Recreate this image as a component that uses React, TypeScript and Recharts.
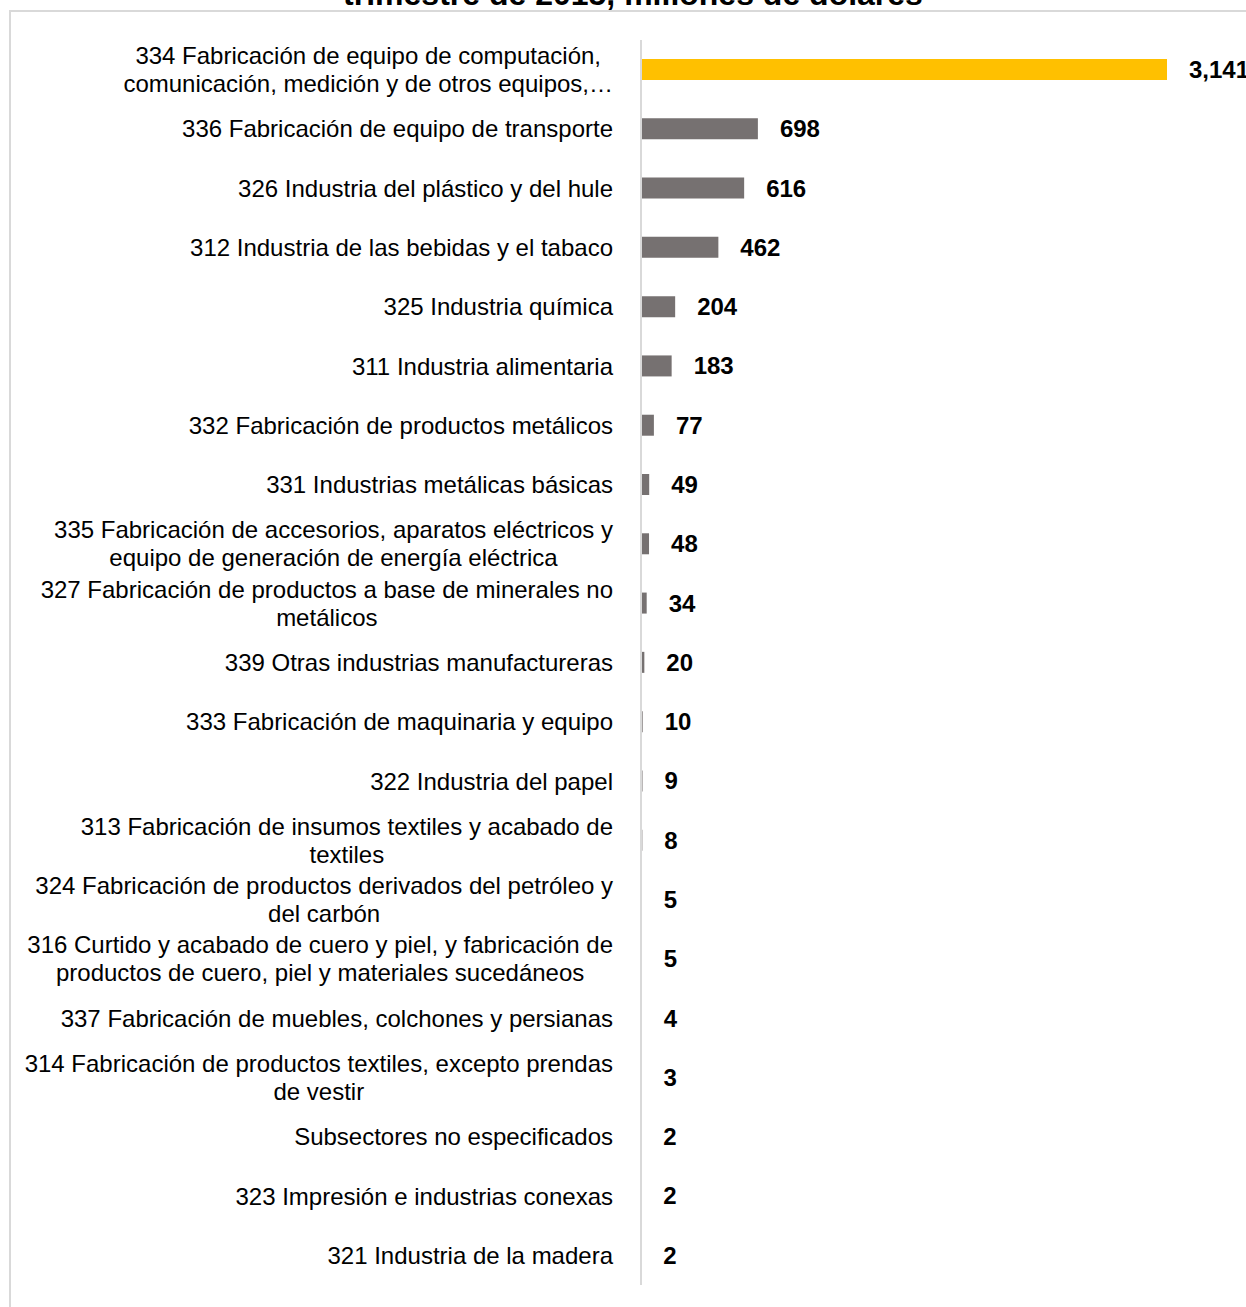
import React from 'react';
import { BarChart, Bar, XAxis, YAxis, Cell, LabelList } from 'recharts';

const categories: string[] = [
  '334 Fabricación de equipo de computación,\ncomunicación, medición y de otros equipos,…',
  '336 Fabricación de equipo de transporte',
  '326 Industria del plástico y del hule',
  '312 Industria de las bebidas y el tabaco',
  '325 Industria química',
  '311 Industria alimentaria',
  '332 Fabricación de productos metálicos',
  '331 Industrias metálicas básicas',
  '335 Fabricación de accesorios, aparatos eléctricos y\nequipo de generación de energía eléctrica',
  '327 Fabricación de productos a base de minerales no\nmetálicos',
  '339 Otras industrias manufactureras',
  '333 Fabricación de maquinaria y equipo',
  '322 Industria del papel',
  '313 Fabricación de insumos textiles y acabado de\ntextiles',
  '324 Fabricación de productos derivados del petróleo y\ndel carbón',
  '316 Curtido y acabado de cuero y piel, y fabricación de\nproductos de cuero, piel y materiales sucedáneos',
  '337 Fabricación de muebles, colchones y persianas',
  '314 Fabricación de productos textiles, excepto prendas\nde vestir',
  'Subsectores no especificados',
  '323 Impresión e industrias conexas',
  '321 Industria de la madera',
];

const values: number[] = [3141, 698, 616, 462, 204, 183, 77, 49, 48, 34, 20, 10, 9, 8, 5, 5, 4, 3, 2, 2, 2];

const titleText = 'trimestre de 2015, millones de dólares';

const HIGHLIGHT = '#FFC000';
const BAR_GRAY = '#767171';
const FONT = "'Liberation Sans', Arial, sans-serif";

const data = categories.map((name, i) => ({ name, value: values[i] }));

let measureCtx: CanvasRenderingContext2D | null = null;
function measure(text: string, size: number): number {
  if (!measureCtx) {
    const c = document.createElement('canvas');
    measureCtx = c.getContext('2d');
  }
  if (!measureCtx) return text.length * size * 0.5;
  measureCtx.font = `${size}px 'Liberation Sans', Arial, sans-serif`;
  return measureCtx.measureText(text).width;
}

const CategoryTick = (props: any) => {
  const { x, y, payload } = props;
  const lines: string[] = String(payload.value).split('\n');
  const fs = 24;
  const lh = 28;
  if (lines.length === 1) {
    return (
      <text x={x} y={y} dy="0.355em" textAnchor="end" fontSize={fs} fill="#000" fontFamily={FONT}>
        {lines[0]}
      </text>
    );
  }
  const widths = lines.map((l) => measure(l, fs));
  const maxW = Math.max(...widths);
  const cx = x - maxW / 2;
  return (
    <g>
      {lines.map((l, i) => (
        <text
          key={i}
          x={cx}
          y={y + (i - (lines.length - 1) / 2) * lh}
          dy="0.355em"
          textAnchor="middle"
          fontSize={fs}
          fill="#000"
          fontFamily={FONT}
        >
          {l}
        </text>
      ))}
    </g>
  );
};

const fmt = (v: any) => Number(v).toLocaleString('en-US');

export default function App() {
  return (
    <div
      style={{
        position: 'fixed',
        left: 0,
        top: 0,
        width: 1246,
        height: 1307,
        overflow: 'hidden',
        background: '#fff',
        fontFamily: FONT,
      }}
    >
      <div
        style={{
          position: 'absolute',
          left: 9,
          top: 10,
          width: 1300,
          height: 1400,
          border: '2px solid #d9d9d9',
          boxSizing: 'border-box',
        }}
      />
      <svg width={1246} height={40} style={{ position: 'absolute', left: 0, top: 0 }}>
        <text x={633} y={5} textAnchor="middle" fontSize={32} fontWeight="bold" fill="#000" fontFamily={FONT}>
          {titleText}
        </text>
      </svg>
      <div style={{ position: 'absolute', left: 0, top: 0 }}>
        <BarChart
          width={1246}
          height={1307}
          data={data}
          layout="vertical"
          margin={{ top: 40, right: 79, bottom: 22, left: 0 }}
          barSize={21}
        >
          <XAxis type="number" hide domain={[0, 'dataMax']} />
          <YAxis
            type="category"
            dataKey="name"
            width={641}
            interval={0}
            tickLine={false}
            tickSize={0}
            tickMargin={28}
            axisLine={{ stroke: '#d9d9d9', strokeWidth: 2 }}
            tick={<CategoryTick />}
          />
          <Bar dataKey="value" isAnimationActive={false}>
            {data.map((d, i) => (
              <Cell key={i} fill={i === 0 ? HIGHLIGHT : BAR_GRAY} />
            ))}
            <LabelList
              dataKey="value"
              position="right"
              offset={22}
              formatter={fmt}
              fill="#000"
              fontSize={24}
              fontWeight="bold"
              fontFamily={FONT}
            />
          </Bar>
        </BarChart>
      </div>
    </div>
  );
}
